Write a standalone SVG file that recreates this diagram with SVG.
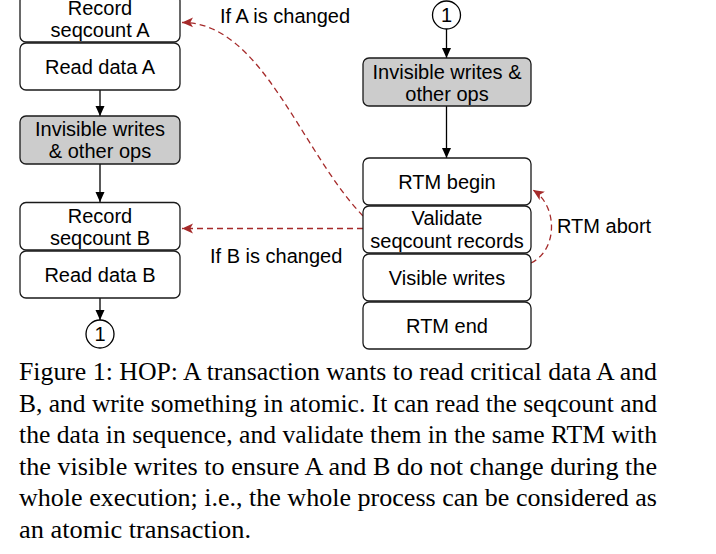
<svg xmlns="http://www.w3.org/2000/svg" width="716" height="554" viewBox="0 0 716 554">
<defs>
<style>
.box{fill:#ffffff;stroke:#1a1a1a;stroke-width:1.3}
.gray{fill:#cccccc;stroke:#1a1a1a;stroke-width:1.3}
.t{font-family:"Liberation Sans",Arial,sans-serif;font-size:20px;fill:#000;text-anchor:middle}
.lbl{font-family:"Liberation Sans",Arial,sans-serif;font-size:20px;fill:#000}
.cap{font-family:"Liberation Serif","Times New Roman",serif;font-size:25px;fill:#000}
.arr{fill:none;stroke:#000;stroke-width:1.3}
.red{fill:none;stroke:#a52a2a;stroke-width:1.3;stroke-dasharray:6,4}
</style>
<marker id="ah" viewBox="0 0 10 10" refX="10" refY="5" markerWidth="10" markerHeight="10" markerUnits="userSpaceOnUse" orient="auto">
<path d="M0,0.5 L10,5 L0,9.5 Z" fill="#000"/>
</marker>
<marker id="rh" viewBox="0 0 10 10" refX="10" refY="5" markerWidth="11" markerHeight="11" markerUnits="userSpaceOnUse" orient="auto">
<path d="M0,0.5 L10,5 L0,9.5 L2.5,5 Z" fill="#a52a2a"/>
</marker>
</defs>
<rect width="716" height="554" fill="#ffffff"/>

<g id="connectors">
<line class="arr" x1="100" y1="90" x2="100" y2="116" marker-end="url(#ah)"/>
<line class="arr" x1="100" y1="164" x2="100" y2="202" marker-end="url(#ah)"/>
<line class="arr" x1="100" y1="298" x2="100" y2="320" marker-end="url(#ah)"/>
<line class="arr" x1="446.5" y1="29" x2="446.5" y2="58" marker-end="url(#ah)"/>
<line class="arr" x1="446.5" y1="106" x2="446.5" y2="158" marker-end="url(#ah)"/>
<path class="red" d="M363,216 C300,150 262,22 182,22.5" marker-end="url(#rh)"/>
<line class="red" x1="363" y1="228.5" x2="182" y2="228.5" marker-end="url(#rh)"/>
<path class="red" d="M531,263 C558,250 558,206 533,190" marker-end="url(#rh)"/>
<text class="lbl" x="220" y="23">If A is changed</text>
<text class="lbl" x="210" y="263">If B is changed</text>
<text class="lbl" x="557" y="233">RTM abort</text>
</g>

<g id="rec-a"><rect class="box" x="20" y="-5" width="160" height="47" rx="6"/><text class="t" x="100" y="15">Record</text><text class="t" x="100" y="37">seqcount A</text></g>
<g id="read-a"><rect class="box" x="20" y="43" width="160" height="47" rx="6"/><text class="t" x="100" y="74">Read data A</text></g>
<g id="inv-left"><rect class="gray" x="20" y="116" width="160" height="48" rx="6"/><text class="t" x="100" y="135.5">Invisible writes</text><text class="t" x="100" y="158">&amp; other ops</text></g>
<g id="rec-b"><rect class="box" x="20" y="202.5" width="160" height="47.5" rx="6"/><text class="t" x="100" y="222.5">Record</text><text class="t" x="100" y="245">seqcount B</text></g>
<g id="read-b"><rect class="box" x="20" y="251" width="160" height="47" rx="6"/><text class="t" x="100" y="282">Read data B</text></g>
<g id="conn-left"><circle cx="100" cy="334" r="14" fill="#fff" stroke="#000" stroke-width="1.3"/><text class="t" x="100" y="341">1</text></g>

<g id="conn-right"><circle cx="446.5" cy="15" r="14" fill="#fff" stroke="#000" stroke-width="1.3"/><text class="t" x="446.5" y="22">1</text></g>
<g id="inv-right"><rect class="gray" x="363" y="58" width="168" height="48" rx="6"/><text class="t" x="447" y="79">Invisible writes &amp;</text><text class="t" x="447" y="101">other ops</text></g>
<g id="rtm-begin"><rect class="box" x="363" y="158" width="168" height="47" rx="6"/><text class="t" x="447" y="189">RTM begin</text></g>
<g id="validate"><rect class="box" x="363" y="206" width="168" height="47" rx="6"/><text class="t" x="447" y="225">Validate</text><text class="t" x="447" y="247.5">seqcount records</text></g>
<g id="visible"><rect class="box" x="363" y="254" width="168" height="47" rx="6"/><text class="t" x="447" y="284.5">Visible writes</text></g>
<g id="rtm-end"><rect class="box" x="363" y="302" width="168" height="47" rx="6"/><text class="t" x="447" y="332.5">RTM end</text></g>

<g id="caption">
<text class="cap" x="19" y="380" textLength="638" lengthAdjust="spacingAndGlyphs">Figure 1: HOP: A transaction wants to read critical data A and</text>
<text class="cap" x="19" y="411.5" textLength="638" lengthAdjust="spacingAndGlyphs">B, and write something in atomic. It can read the seqcount and</text>
<text class="cap" x="19" y="443" textLength="638" lengthAdjust="spacingAndGlyphs">the data in sequence, and validate them in the same RTM with</text>
<text class="cap" x="19" y="474.5" textLength="638" lengthAdjust="spacingAndGlyphs">the visible writes to ensure A and B do not change during the</text>
<text class="cap" x="19" y="506" textLength="638" lengthAdjust="spacingAndGlyphs">whole execution; i.e., the whole process can be considered as</text>
<text class="cap" x="19" y="537.5" textLength="232" lengthAdjust="spacingAndGlyphs">an atomic transaction.</text>
</g>
</svg>
